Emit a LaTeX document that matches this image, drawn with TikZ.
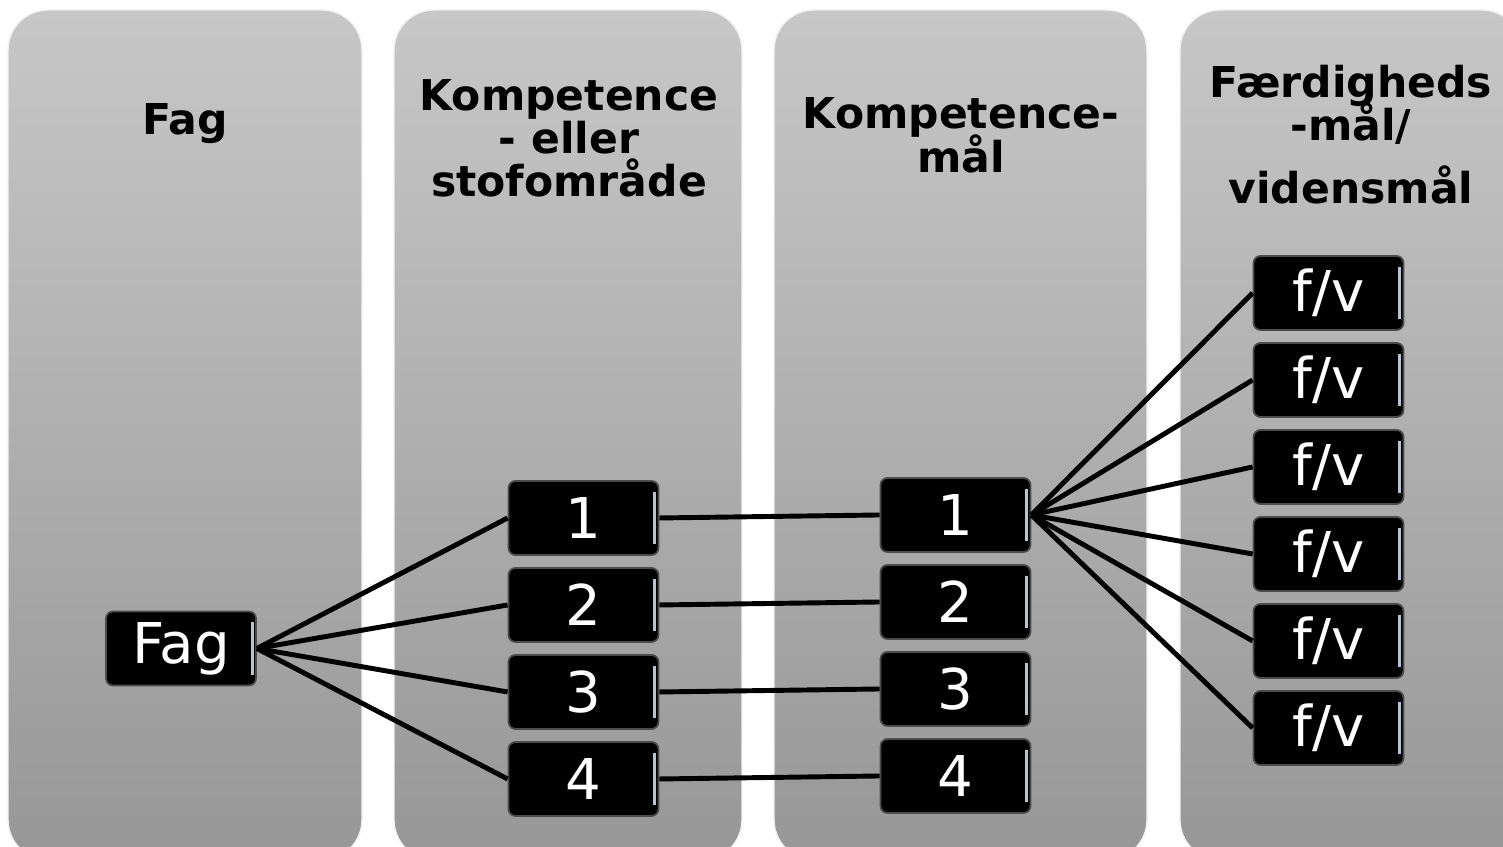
\documentclass[tikz,border=0pt]{standalone}
\usepackage{fontspec}
\setmainfont{DejaVu Sans}
\usetikzlibrary{positioning}
\definecolor{pbtop}{HTML}{C7C7C7}
\definecolor{pbbot}{HTML}{979797}
\definecolor{edgehi}{HTML}{B9C4D0}
\newcommand{\headfont}{\fontsize{12.1}{12.2}\selectfont\bfseries\lineskiplimit=-100pt\relax}

\begin{document}
\begin{tikzpicture}[scale=1,
                    panel/.style={rounded corners=0.4cm, top color=pbtop, bottom color=pbbot, draw=white!90!gray, line width=0.4pt},
                    head/.style={align=center, anchor=north, inner sep=0pt, font=\headfont},
                    box/.style={rectangle, rounded corners=0.07cm, fill=black, draw=black!70, line width=0.5pt,
                                text=white, minimum width=1.5cm, minimum height=0.74cm, inner sep=0pt,
                                font=\fontsize{16}{17}\selectfont,
                                path picture={\draw[edgehi, line width=0.8pt]
                                    ([xshift=-1.1pt,yshift=-3pt]path picture bounding box.north east) --
                                    ([xshift=-1.1pt,yshift=3pt]path picture bounding box.south east);}},
                    link/.style={line width=1.4pt, black},
                   ]

\useasboundingbox (0,0) rectangle (15.03,8.47);
\clip (0,0) rectangle (15.03,8.47);
\fill[white] (0,0) rectangle (15.03,8.47);

% the four columns
\draw[panel] (0.08,-0.13) rectangle (3.62,8.37);
\draw[panel] (3.94,-0.13) rectangle (7.42,8.37);
\draw[panel] (7.74,-0.13) rectangle (11.47,8.37);
\draw[panel] (11.80,-0.13) rectangle (15.22,8.37);

\node[head] (hfag) at (1.85,7.44) {Fag};
\node[head] (hkomp) at (5.69,7.68) {Kompetence\\- eller\\stofområde};
\node[head] (hmaal) at (9.61,7.50) {Kompetence-\\[0.4pt]mål};
\node[head] (hfv) at (13.51,7.82) {Færdigheds\\-mål/\\[5.7pt]vidensmål};

% boxes
\node[box] (fag) at (1.81,1.985) {Fag};
\foreach \i/\y in {1/3.29, 2/2.42, 3/1.55, 4/0.68}
    \node[box] (k\i) at (5.835,\y) {\i};
\foreach \i/\y in {1/3.32, 2/2.45, 3/1.58, 4/0.71}
    \node[box] (m\i) at (9.555,\y) {\i};
\foreach \i/\y in {1/5.54, 2/4.67, 3/3.80, 4/2.93, 5/2.06, 6/1.19}
    \node[box] (fv\i) at (13.285,\y) {f/v};

% connections
\foreach \i in {1,...,4} {
    \draw[link] (fag.east) -- (k\i.west);
    \draw[link] (k\i.east) -- (m\i.west);
}
\foreach \i in {1,...,6}
    \draw[link] (m1.east) -- (fv\i.west);

\end{tikzpicture}
\end{document}
